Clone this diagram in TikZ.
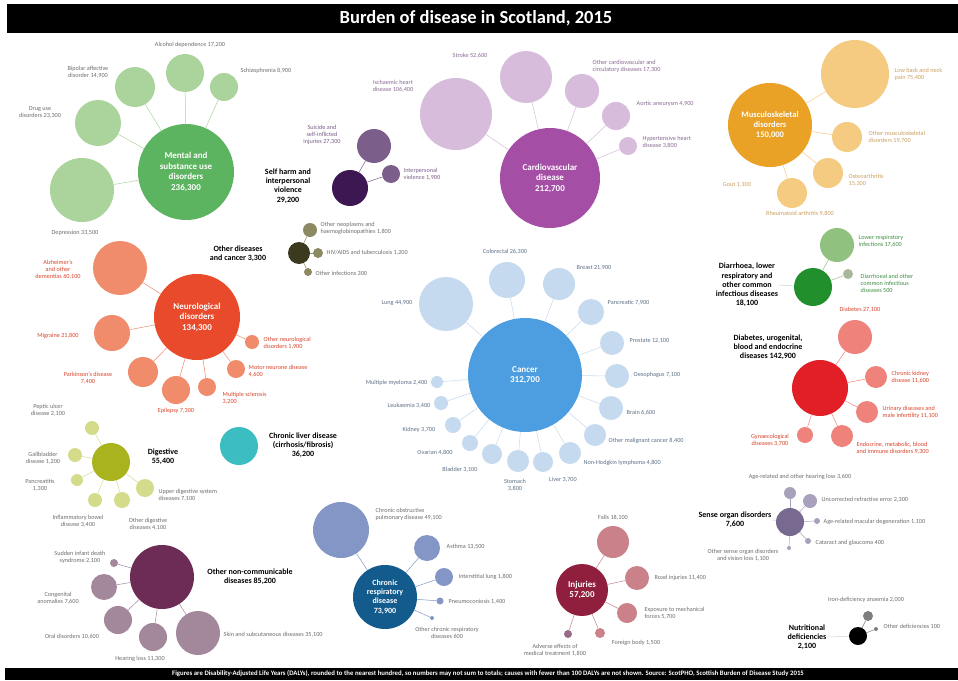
\documentclass[tikz,border=0pt]{standalone}
\usepackage{fontspec}
\setmainfont{Carlito}
\newcommand{\lblfont}{\fontsize{6.2}{7}\selectfont}
\newcommand{\catfont}{\fontsize{8}{9.2}\selectfont\bfseries}
\newcommand{\bigfont}{\fontsize{9}{10.5}\selectfont\bfseries}

\definecolor{txtgrey}{HTML}{6E6E6E}
\definecolor{mhmain}{HTML}{5DB460}
\definecolor{mhsat}{HTML}{AAD49C}
\definecolor{cvmain}{HTML}{A54EA6}
\definecolor{cvsat}{HTML}{D7BCDC}
\definecolor{cvtxt}{HTML}{8A6A92}
\definecolor{msmain}{HTML}{E9A126}
\definecolor{mssat}{HTML}{F4CB80}
\definecolor{mstxt}{HTML}{C9A060}
\definecolor{camain}{HTML}{4C9EE0}
\definecolor{casat}{HTML}{C6DAEF}
\definecolor{catxt}{HTML}{5E7188}
\definecolor{nemain}{HTML}{E84A2B}
\definecolor{nesat}{HTML}{F08B6C}
\definecolor{netxt}{HTML}{D9452B}
\definecolor{shmain}{HTML}{3C1751}
\definecolor{shsat}{HTML}{7C5E8B}
\definecolor{odmain}{HTML}{3C3A1E}
\definecolor{odsat}{HTML}{8C8A62}
\definecolor{dgmain}{HTML}{A8B31E}
\definecolor{dgsat}{HTML}{D4DC8C}
\definecolor{lvmain}{HTML}{3CBDC1}
\definecolor{onmain}{HTML}{6C2C56}
\definecolor{onsat}{HTML}{A3879A}
\definecolor{crmain}{HTML}{125B8C}
\definecolor{crsat}{HTML}{8396C6}
\definecolor{inmain}{HTML}{8F1F3C}
\definecolor{insat}{HTML}{CA818A}
\definecolor{ifmain}{HTML}{21902C}
\definecolor{ifsatA}{HTML}{90C17F}
\definecolor{ifsatB}{HTML}{A8B99B}
\definecolor{iftxt}{HTML}{3F8F45}
\definecolor{dbmain}{HTML}{E21E26}
\definecolor{dbsat}{HTML}{EF837C}
\definecolor{somain}{HTML}{77698F}
\definecolor{sosat}{HTML}{A9A1BC}
\definecolor{ntsat}{HTML}{7E7E7E}

\tikzset{
  bub/.style={circle, inner sep=0pt, minimum size=#1},
  big/.style={font=\bigfont, text=white, align=center},
  cat/.style={font=\catfont, align=center, inner sep=0.5pt},
  lbl/.style={font=\lblfont, align=center, inner sep=0.5pt, text=#1},
  lbl/.default=txtgrey,
  link/.style={draw=#1, line width=0.5pt},
  link/.default=gray!35,
}

\begin{document}
\begin{tikzpicture}[x=1pt, y=-1pt]
  \useasboundingbox (0,0) rectangle (958,680);
  \fill[white] (0,0) rectangle (958,680);

  % 标题栏
  \fill[black] (7,4) rectangle (958,33);
  \node[font=\fontsize{18.5}{20}\selectfont\bfseries, text=white] (title) at (476,18) {Burden of disease in Scotland, 2015};
  % 底栏
  \fill[black] (5,668) rectangle (958,680);
  \node[font=\fontsize{6.8}{7}\selectfont\bfseries, text=white] (foot) at (488,674) {Figures are Disability-Adjusted Life Years (DALYs), rounded to the nearest hundred, so numbers may not sum to totals; causes with fewer than 100 DALYs are not shown. Source: ScotPHO, Scottish Burden of Disease Study 2015};

  % 精神与物质使用障碍
  \node[bub=96pt, fill=mhmain, big] (mh) at (186,172) {Mental and\\substance use\\disorders\\236,300};
  \node[bub=38pt, fill=mhsat] (mh1) at (185,73) {};
  \node[bub=40pt, fill=mhsat] (mh2) at (135,87) {};
  \node[bub=28pt, fill=mhsat] (mh3) at (224,87) {};
  \node[bub=46pt, fill=mhsat] (mh4) at (98,123) {};
  \node[bub=64pt, fill=mhsat] (mh5) at (82,190) {};
  \node[lbl] (mh1t) at (190,45) {Alcohol dependence 17,200};
  \node[lbl] (mh2t) at (88,72) {Bipolar affective\\disorder 14,900};
  \node[lbl, anchor=west] (mh3t) at (240,71) {Schizophrenia 8,900};
  \node[lbl] (mh4t) at (40,112) {Drug use\\disorders 23,300};
  \node[lbl] (mh5t) at (75,233) {Depression 33,500};
  \draw[link=mhsat] (mh) -- (mh1);
  \draw[link=mhsat] (mh) -- (mh2);
  \draw[link=mhsat] (mh) -- (mh3);
  \draw[link=mhsat] (mh) -- (mh4);
  \draw[link=mhsat] (mh) -- (mh5);

  % 自残与人际暴力
  \node[bub=36pt, fill=shmain] (sh) at (350,188) {};
  \node[bub=34pt, fill=shsat] (sh1) at (374,146) {};
  \node[bub=18pt, fill=shsat] (sh2) at (391,174) {};
  \node[cat] (sht) at (288,186) {Self harm and\\interpersonal\\violence\\29,200};
  \node[lbl=shsat] (sh1t) at (322,135) {Suicide and\\self-inflicted\\injuries 27,300};
  \node[lbl=shsat, anchor=west, align=left] (sh2t) at (403,174) {Interpersonal\\violence 1,900};
  \draw[link=shsat] (sh) -- (sh1);
  \draw[link=shsat] (sh) -- (sh2);

  % 心血管疾病
  \node[bub=100pt, fill=cvmain, big] (cv) at (550,178) {Cardiovascular\\disease\\212,700};
  \node[bub=72pt, fill=cvsat] (cv1) at (456,114) {};
  \node[bub=52pt, fill=cvsat] (cv2) at (526,77) {};
  \node[bub=34pt, fill=cvsat] (cv3) at (582,91) {};
  \node[bub=28pt, fill=cvsat] (cv4) at (616,116) {};
  \node[bub=18pt, fill=cvsat] (cv5) at (628,146) {};
  \node[lbl=cvtxt] (cv1t) at (393,86) {Ischaemic heart\\disease 106,400};
  \node[lbl=cvtxt] (cv2t) at (470,56) {Stroke 52,600};
  \node[lbl=cvtxt, anchor=west, align=left] (cv3t) at (592,66) {Other cardiovascular and\\circulatory diseases 17,300};
  \node[lbl=cvtxt, anchor=west] (cv4t) at (636,104) {Aortic aneurysm 4,900};
  \node[lbl=cvtxt, anchor=west, align=left] (cv5t) at (642,142) {Hypertensive heart\\disease 3,800};
  \draw[link=cvsat] (cv) -- (cv1);
  \draw[link=cvsat] (cv) -- (cv2);
  \draw[link=cvsat] (cv) -- (cv3);
  \draw[link=cvsat] (cv) -- (cv4);
  \draw[link=cvsat] (cv) -- (cv5);

  % 肌肉骨骼疾病
  \node[bub=84pt, fill=msmain, big, font=\fontsize{8.5}{10}\selectfont\bfseries] (ms) at (770,125) {Musculoskeletal\\disorders\\150,000};
  \node[bub=68pt, fill=mssat] (ms1) at (855,74) {};
  \node[bub=30pt, fill=mssat] (ms2) at (847,137) {};
  \node[bub=30pt, fill=mssat] (ms3) at (828,173) {};
  \node[bub=30pt, fill=mssat] (ms4) at (792,193) {};
  \node[lbl=mstxt, anchor=west, align=left] (ms1t) at (894,74) {Low back and neck\\pain 75,400};
  \node[lbl=mstxt, anchor=west, align=left] (ms2t) at (868,137) {Other musculoskeletal\\disorders 19,700};
  \node[lbl=mstxt, anchor=west, align=left] (ms3t) at (848,180) {Osteoarthritis\\15,300};
  \node[lbl=mstxt] (ms4t) at (800,214) {Rheumatoid arthritis 9,800};
  \node[lbl=mstxt] (ms5t) at (737,185) {Gout 1,100};
  \draw[link=mssat] (ms) -- (ms1);
  \draw[link=mssat] (ms) -- (ms2);
  \draw[link=mssat] (ms) -- (ms3);
  \draw[link=mssat] (ms) -- (ms4);

  % 癌症
  \node[bub=114pt, fill=camain, big] (ca) at (525,375) {Cancer\\312,700};
  \node[bub=54pt, fill=casat] (ca1) at (446,304) {};
  \node[bub=36pt, fill=casat] (ca2) at (507,280) {};
  \node[bub=32pt, fill=casat] (ca3) at (559,284) {};
  \node[bub=26pt, fill=casat] (ca4) at (591,312) {};
  \node[bub=24pt, fill=casat] (ca5) at (612,343) {};
  \node[bub=24pt, fill=casat] (ca6) at (617,376) {};
  \node[bub=24pt, fill=casat] (ca7) at (611,408) {};
  \node[bub=22pt, fill=casat] (ca8) at (595,435) {};
  \node[bub=22pt, fill=casat] (ca9) at (570,453) {};
  \node[bub=20pt, fill=casat] (ca10) at (543,462) {};
  \node[bub=22pt, fill=casat] (ca11) at (518,461) {};
  \node[bub=20pt, fill=casat] (ca12) at (492,454) {};
  \node[bub=16pt, fill=casat] (ca13) at (470,443) {};
  \node[bub=16pt, fill=casat] (ca14) at (453,425) {};
  \node[bub=14pt, fill=casat] (ca15) at (441,403) {};
  \node[bub=12pt, fill=casat] (ca16) at (437,382) {};
  \node[lbl=catxt, anchor=east] (ca1t) at (413,303) {Lung 44,900};
  \node[lbl=catxt] (ca2t) at (505,252) {Colorectal 26,300};
  \node[lbl=catxt, anchor=west] (ca3t) at (576,268) {Breast 21,900};
  \node[lbl=catxt, anchor=west] (ca4t) at (607,303) {Pancreatic 7,900};
  \node[lbl=catxt, anchor=west] (ca5t) at (629,341) {Prostate 12,100};
  \node[lbl=catxt, anchor=west] (ca6t) at (633,375) {Oesophagus 7,100};
  \node[lbl=catxt, anchor=west] (ca7t) at (626,413) {Brain 6,600};
  \node[lbl=catxt, anchor=west] (ca8t) at (608,441) {Other malignant cancer 8,400};
  \node[lbl=catxt, anchor=west] (ca9t) at (583,463) {Non-Hodgkin lymphoma 4,800};
  \node[lbl=catxt] (ca10t) at (563,480) {Liver 3,700};
  \node[lbl=catxt] (ca11t) at (515,485) {Stomach\\3,800};
  \node[lbl=catxt] (ca12t) at (460,470) {Bladder 3,100};
  \node[lbl=catxt] (ca13t) at (435,453) {Ovarian 4,800};
  \node[lbl=catxt] (ca14t) at (419,430) {Kidney 3,700};
  \node[lbl=catxt] (ca15t) at (409,406) {Leukaemia 3,400};
  \node[lbl=catxt, anchor=east] (ca16t) at (428,383) {Multiple myeloma 2,400};
  \foreach \i in {1,...,16}
    \draw[link=casat] (ca) -- (ca\i);

  % 神经系统疾病
  \node[bub=86pt, fill=nemain, big] (ne) at (197,317) {Neurological\\disorders\\134,300};
  \node[bub=54pt, fill=nesat] (ne1) at (120,268) {};
  \node[bub=36pt, fill=nesat] (ne2) at (112,333) {};
  \node[bub=30pt, fill=nesat] (ne3) at (143,372) {};
  \node[bub=28pt, fill=nesat] (ne4) at (176,390) {};
  \node[bub=18pt, fill=nesat] (ne5) at (207,387) {};
  \node[bub=18pt, fill=nesat] (ne6) at (236,369) {};
  \node[bub=14pt, fill=nesat] (ne7) at (252,342) {};
  \node[lbl=netxt] (ne1t) at (58,270) {Alzheimer's\\and other\\dementias 60,100};
  \node[lbl=netxt] (ne2t) at (58,336) {Migraine 21,800};
  \node[lbl=netxt] (ne3t) at (88,378) {Parkinson's disease\\7,400};
  \node[lbl=netxt] (ne4t) at (176,411) {Epilepsy 7,300};
  \node[lbl=netxt, anchor=west, align=left] (ne5t) at (222,398) {Multiple sclerosis\\3,200};
  \node[lbl=netxt, anchor=west, align=left] (ne6t) at (248,371) {Motor neurone disease\\4,600};
  \node[lbl=netxt, anchor=west, align=left] (ne7t) at (263,343) {Other neurological\\disorders 1,900};
  \foreach \i in {1,...,7}
    \draw[link=nesat] (ne) -- (ne\i);

  % 其他疾病与肿瘤
  \node[bub=22pt, fill=odmain] (od) at (299,253) {};
  \node[bub=14pt, fill=odsat] (od1) at (310,230) {};
  \node[bub=10pt, fill=odsat] (od2) at (318,253) {};
  \node[bub=8pt, fill=odsat] (od3) at (308,272) {};
  \node[cat] (odt) at (238,254) {Other diseases\\and cancer 3,300};
  \node[lbl, anchor=west, align=left] (od1t) at (320,228) {Other neoplasms and\\haemoglobinopathies 1,800};
  \node[lbl, anchor=west] (od2t) at (326,253) {HIV/AIDS and tuberculosis 1,200};
  \node[lbl, anchor=west] (od3t) at (315,273) {Other infections 300};
  \draw[link=odsat] (od) -- (od1);
  \draw[link=odsat] (od) -- (od2);
  \draw[link=odsat] (od) -- (od3);

  % 消化系统疾病
  \node[bub=38pt, fill=dgmain] (dg) at (111,462) {};
  \node[bub=14pt, fill=dgsat] (dg1) at (92,428) {};
  \node[bub=14pt, fill=dgsat] (dg2) at (75,455) {};
  \node[bub=12pt, fill=dgsat] (dg3) at (77,480) {};
  \node[bub=14pt, fill=dgsat] (dg4) at (95,500) {};
  \node[bub=16pt, fill=dgsat] (dg5) at (122,500) {};
  \node[bub=18pt, fill=dgsat] (dg6) at (145,488) {};
  \node[cat] (dgt) at (163,457) {Digestive\\55,400};
  \node[lbl] (dg1t) at (48,410) {Peptic ulcer\\disease 2,100};
  \node[lbl] (dg2t) at (43,458) {Gallbladder\\disease 1,200};
  \node[lbl] (dg3t) at (40,485) {Pancreatitis\\1,300};
  \node[lbl] (dg4t) at (78,521) {Inflammatory bowel\\disease 3,400};
  \node[lbl] (dg5t) at (148,524) {Other digestive\\diseases 4,100};
  \node[lbl, anchor=west, align=left] (dg6t) at (158,495) {Upper digestive system\\diseases 7,100};
  \foreach \i in {1,...,6}
    \draw[link=dgsat] (dg) -- (dg\i);

  % 慢性肝病
  \node[bub=38pt, fill=lvmain] (lv) at (239,446) {};
  \node[cat] (lvt) at (303,445) {Chronic liver disease\\(cirrhosis/fibrosis)\\36,200};

  % 其他非传染性疾病
  \node[bub=64pt, fill=onmain] (on) at (162,577) {};
  \node[bub=8pt, fill=onsat] (on1) at (114,563) {};
  \node[bub=26pt, fill=onsat] (on2) at (104,587) {};
  \node[bub=28pt, fill=onsat] (on3) at (118,620) {};
  \node[bub=28pt, fill=onsat] (on4) at (153,637) {};
  \node[bub=44pt, fill=onsat] (on5) at (198,633) {};
  \node[cat] (ont) at (250,577) {Other non-communicable\\diseases 85,200};
  \node[lbl] (on1t) at (80,557) {Sudden infant death\\syndrome 2,100};
  \node[lbl] (on2t) at (58,598) {Congenital\\anomalies 7,600};
  \node[lbl] (on3t) at (72,637) {Oral disorders 10,600};
  \node[lbl] (on4t) at (140,659) {Hearing loss 11,300};
  \node[lbl, anchor=west] (on5t) at (223,635) {Skin and subcutaneous diseases 35,100};
  \foreach \i in {1,...,5}
    \draw[link=onsat] (on) -- (on\i);

  % 慢性呼吸系统疾病
  \node[bub=64pt, fill=crmain, big, font=\fontsize{8}{9.2}\selectfont\bfseries] (cr) at (385,597) {Chronic\\respiratory\\disease\\73,900};
  \node[bub=56pt, fill=crsat] (cr1) at (341,530) {};
  \node[bub=26pt, fill=crsat] (cr2) at (427,548) {};
  \node[bub=18pt, fill=crsat] (cr3) at (444,577) {};
  \node[bub=7pt, fill=crsat] (cr4) at (440,601) {};
  \node[bub=4pt, fill=crsat] (cr5) at (432,618) {};
  \node[lbl, anchor=west, align=left] (cr1t) at (375,514) {Chronic obstructive\\pulmonary disease 49,100};
  \node[lbl, anchor=west] (cr2t) at (446,547) {Asthma 13,500};
  \node[lbl, anchor=west] (cr3t) at (458,577) {Interstitial lung 1,800};
  \node[lbl, anchor=west] (cr4t) at (448,602) {Pneumoconiosis 1,400};
  \node[lbl] (cr5t) at (447,633) {Other chronic respiratory\\diseases 600};
  \foreach \i in {1,...,5}
    \draw[link=crsat] (cr) -- (cr\i);

  % 伤害
  \node[bub=52pt, fill=inmain, big] (in) at (582,590) {Injuries\\57,200};
  \node[bub=32pt, fill=insat] (in1) at (613,542) {};
  \node[bub=24pt, fill=insat] (in2) at (637,578) {};
  \node[bub=20pt, fill=insat] (in3) at (627,613) {};
  \node[bub=10pt, fill=insat] (in4) at (600,633) {};
  \node[bub=8pt, fill=onmain!70] (in5) at (568,634) {};
  \node[lbl] (in1t) at (613,518) {Falls 18,100};
  \node[lbl, anchor=west] (in2t) at (654,578) {Road injuries 11,400};
  \node[lbl, anchor=west, align=left] (in3t) at (644,613) {Exposure to mechanical\\forces 5,700};
  \node[lbl] (in4t) at (636,643) {Foreign body 1,500};
  \node[lbl] (in5t) at (555,650) {Adverse effects of\\medical treatment 1,800};
  \foreach \i in {1,...,5}
    \draw[link=insat] (in) -- (in\i);

  % 腹泻、下呼吸道及其他常见传染病
  \node[bub=38pt, fill=ifmain] (if) at (813,287) {};
  \node[bub=34pt, fill=ifsatA] (if1) at (837,245) {};
  \node[bub=10pt, fill=ifsatB] (if2) at (848,274) {};
  \node[cat] (ift) at (747,285) {Diarrhoea, lower\\respiratory and\\other common\\infectious diseases\\18,100};
  \node[lbl=iftxt, anchor=west, align=left] (if1t) at (858,241) {Lower respiratory\\infections 17,600};
  \node[lbl=iftxt, anchor=west, align=left] (if2t) at (860,283) {Diarrhoeal and other\\common infectious\\diseases 500};
  \draw[link=ifsatA] (if) -- (if1);
  \draw[link=ifsatB] (if) -- (if2);
  \draw[link] (ift.east) -- (if);

  % 糖尿病、泌尿生殖、血液与内分泌疾病
  \node[bub=56pt, fill=dbmain] (db) at (820,388) {};
  \node[bub=34pt, fill=dbsat] (db1) at (855,337) {};
  \node[bub=22pt, fill=dbsat] (db2) at (876,377) {};
  \node[bub=22pt, fill=dbsat] (db3) at (867,412) {};
  \node[bub=22pt, fill=dbsat] (db4) at (842,436) {};
  \node[bub=16pt, fill=dbsat] (db5) at (805,435) {};
  \node[cat] (dbt) at (768,347) {Diabetes, urogenital,\\blood and endocrine\\diseases 142,900};
  \node[lbl=netxt] (db1t) at (860,310) {Diabetes 27,100};
  \node[lbl=netxt, anchor=west, align=left] (db2t) at (891,377) {Chronic kidney\\disease 11,600};
  \node[lbl=netxt, anchor=west, align=left] (db3t) at (882,412) {Urinary diseases and\\male infertility 11,100};
  \node[lbl=netxt, anchor=west, align=left] (db4t) at (856,448) {Endocrine, metabolic, blood\\and immune disorders 9,300};
  \node[lbl=netxt] (db5t) at (770,440) {Gynaecological\\diseases 3,700};
  \foreach \i in {1,...,5}
    \draw[link=dbsat] (db) -- (db\i);

  % 感觉器官疾病
  \node[bub=28pt, fill=somain] (so) at (790,522) {};
  \node[bub=12pt, fill=sosat] (so1) at (790,493) {};
  \node[bub=14pt, fill=sosat] (so2) at (810,501) {};
  \node[bub=6pt, fill=sosat] (so3) at (817,521) {};
  \node[bub=6pt, fill=sosat] (so4) at (808,541) {};
  \node[bub=4pt, fill=sosat] (so5) at (789,548) {};
  \node[cat] (sot) at (735,520) {Sense organ disorders\\7,600};
  \node[lbl] (so1t) at (800,477) {Age-related and other hearing loss 3,600};
  \node[lbl, anchor=west] (so2t) at (821,500) {Uncorrected refractive error 2,300};
  \node[lbl, anchor=west] (so3t) at (823,522) {Age-related macular degeneration 1,100};
  \node[lbl, anchor=west] (so4t) at (815,543) {Cataract and glaucoma 400};
  \node[lbl] (so5t) at (743,555) {Other sense organ disorders\\and vision loss 1,100};
  \foreach \i in {1,...,5}
    \draw[link=sosat] (so) -- (so\i);
  \draw[link] (sot.east) -- (so);

  % 营养缺乏
  \node[bub=18pt, fill=black] (nt) at (858,636) {};
  \node[bub=10pt, fill=ntsat] (nt1) at (868,616) {};
  \node[bub=4pt, fill=ntsat] (nt2) at (876,629) {};
  \node[cat] (ntt) at (807,637) {Nutritional\\deficiencies\\2,100};
  \node[lbl] (nt1t) at (866,600) {Iron-deficiency anaemia 2,000};
  \node[lbl, anchor=west] (nt2t) at (883,626) {Other deficiencies 100};
  \draw[link=ntsat] (nt) -- (nt1);
  \draw[link=ntsat] (nt) -- (nt2);
  \draw[link] (ntt.east) -- (nt);
\end{tikzpicture}
\end{document}
